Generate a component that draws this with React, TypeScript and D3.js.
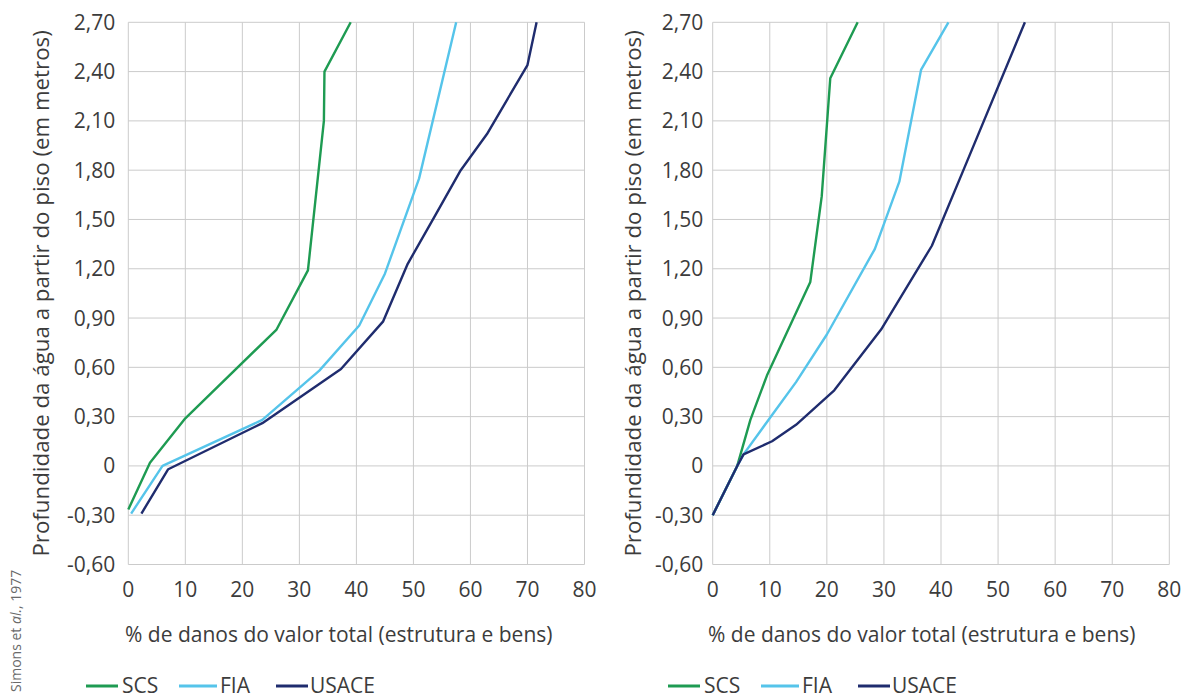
import React from "react";
import * as d3 from "d3";

type Pt = [number, number];

// Left panel series: [percent damage, depth in m]
const leftSCS: Pt[] = [[0, -0.265], [3.8, 0.02], [10, 0.29], [26, 0.83], [31.5, 1.19], [34.3, 2.1], [34.4, 2.4], [39, 2.7]];
const leftFIA: Pt[] = [[0.5, -0.29], [6, 0.0], [23.5, 0.28], [33.5, 0.58], [40.5, 0.855], [45, 1.17], [51, 1.75], [57.5, 2.7]];
const leftUSACE: Pt[] = [[2.3, -0.29], [7, -0.02], [23.5, 0.26], [37.3, 0.59], [44.7, 0.88], [49, 1.23], [53.9, 1.53], [58.3, 1.8], [62.9, 2.02], [70, 2.44], [71.6, 2.7]];

// Right panel series
const rightSCS: Pt[] = [[0, -0.3], [4.3, 0.0], [6.6, 0.28], [9.5, 0.55], [17.1, 1.12], [19.1, 1.64], [20.6, 2.36], [25.4, 2.7]];
const rightFIA: Pt[] = [[0, -0.3], [4.3, 0.0], [5.4, 0.07], [10.4, 0.31], [14.6, 0.51], [20, 0.8], [28.4, 1.32], [32.7, 1.73], [36.5, 2.41], [41.3, 2.7]];
const rightUSACE: Pt[] = [[0, -0.3], [4.3, 0.0], [5.4, 0.07], [10.4, 0.15], [14.6, 0.25], [21.3, 0.46], [29.5, 0.83], [38.4, 1.34], [44.4, 1.84], [54.7, 2.7]];

const xTicks = [0, 10, 20, 30, 40, 50, 60, 70, 80];
const yTicks = [-0.6, -0.3, 0, 0.3, 0.6, 0.9, 1.2, 1.5, 1.8, 2.1, 2.4, 2.7];
const seriesNames = ["SCS", "FIA", "USACE"];
const seriesColors = ["#1e9b52", "#55c4ea", "#1f2c6e"];

const xTitle = "% de danos do valor total (estrutura e bens)";
const yTitle = "Profundidade da água a partir do piso (em metros)";

const FONT = "'Open Sans', 'DejaVu Sans', sans-serif";
const TEXT = "#3c3c3c";
const GRID = "#cbcbcb";

const fmtY = (v: number) => (Math.abs(v) < 1e-9 ? "0" : v.toFixed(2).replace(".", ","));

interface PanelProps {
  x0: number;
  x1: number;
  series: Pt[][];
  yLabelGap: number;
  yTitleX: number;
  xTitleX: number;
  legendX: number;
}

function Panel({ x0, x1, series, yLabelGap, yTitleX, xTitleX, legendX }: PanelProps) {
  const top = 22.3;
  const bottom = 564.5;
  const x = d3.scaleLinear().domain([0, 80]).range([x0, x1]);
  const y = d3.scaleLinear().domain([-0.6, 2.7]).range([bottom, top]);
  const line = d3
    .line<Pt>()
    .x((d) => x(d[0]))
    .y((d) => y(d[1]));

  // legend layout offsets relative to legendX
  const legendItems = [
    { lx: 0, lw: 32, tx: 36 },
    { lx: 93, lw: 38, tx: 134 },
    { lx: 190, lw: 32, tx: 224 },
  ];

  return (
    <g>
      {xTicks.map((t) => (
        <line key={"gx" + t} x1={x(t)} x2={x(t)} y1={top} y2={bottom} stroke={GRID} strokeWidth={1} />
      ))}
      {yTicks.map((t) => (
        <line key={"gy" + t} x1={x0} x2={x1} y1={y(t)} y2={y(t)} stroke={GRID} strokeWidth={1} />
      ))}
      {xTicks.map((t) => (
        <text key={"tx" + t} x={x(t)} y={597} textAnchor="middle" fontFamily={FONT} fontSize={21} fill={TEXT}>
          {t}
        </text>
      ))}
      {yTicks.map((t) => (
        <text
          key={"ty" + t}
          x={x0 - yLabelGap}
          y={y(t)}
          dy="0.36em"
          textAnchor="end"
          fontFamily={FONT}
          fontSize={21}
          fill={TEXT}
        >
          {fmtY(t)}
        </text>
      ))}
      {series.map((s, i) => (
        <path key={"s" + i} d={line(s) || ""} fill="none" stroke={seriesColors[i]} strokeWidth={2.4} strokeLinejoin="round" />
      ))}
      <text x={xTitleX} y={642} fontFamily={FONT} fontSize={21} fill={TEXT}>
        {xTitle}
      </text>
      <text
        transform={`translate(${yTitleX},${(top + bottom) / 2}) rotate(-90)`}
        textAnchor="middle"
        dy="0.36em"
        fontFamily={FONT}
        fontSize={22.3}
        fill={TEXT}
      >
        {yTitle}
      </text>
      {seriesNames.map((n, i) => (
        <g key={"lg" + n}>
          <line
            x1={legendX + legendItems[i].lx}
            x2={legendX + legendItems[i].lx + legendItems[i].lw}
            y1={686}
            y2={686}
            stroke={seriesColors[i]}
            strokeWidth={3}
          />
          <text x={legendX + legendItems[i].tx} y={686} dy="0.35em" fontFamily={FONT} fontSize={21} fill={TEXT}>
            {n}
          </text>
        </g>
      ))}
    </g>
  );
}

export default function App() {
  return (
    <svg
      width={1195}
      height={699}
      viewBox="0 0 1195 699"
      style={{ position: "absolute", left: 0, top: 0, background: "#fff" }}
    >
      <rect x={0} y={0} width={1195} height={699} fill="#fff" />
      <Panel
        x0={128.3}
        x1={584.5}
        series={[leftSCS, leftFIA, leftUSACE]}
        yLabelGap={13}
        yTitleX={41}
        xTitleX={125}
        legendX={86}
      />
      <Panel
        x0={712.7}
        x1={1169.3}
        series={[rightSCS, rightFIA, rightUSACE]}
        yLabelGap={9.5}
        yTitleX={633}
        xTitleX={708}
        legendX={668}
      />
      <text
        transform="translate(16,692) rotate(-90)"
        dy="0.36em"
        fontFamily={FONT}
        fontSize={14}
        fill="#6a6a6a"
      >
        Simons et{" "}
        <tspan fontStyle="italic">al.</tspan>, 1977
      </text>
    </svg>
  );
}
